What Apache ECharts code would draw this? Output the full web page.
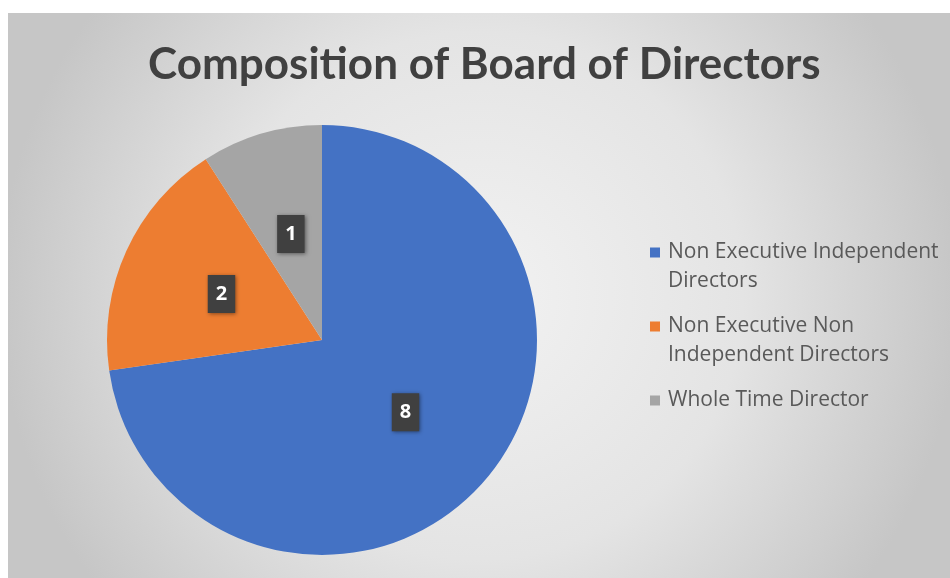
<!DOCTYPE html>
<html>
<head>
<meta charset="utf-8">
<style>
  html, body { margin: 0; padding: 0; background: #ffffff; }
  #chart { width: 950px; height: 578px; }
</style>
<script src="https://cdn.jsdelivr.net/npm/echarts@6/dist/echarts.min.js"></script>
</head>
<body>
<div id="chart"></div>
<script>
const titleText = 'Composition of Board of Directors';
const categories = [
  'Non Executive Independent Directors',
  'Non Executive Non Independent Directors',
  'Whole Time Director'
];
const legendLines = [
  ['Non Executive Independent', 'Directors'],
  ['Non Executive Non', 'Independent Directors'],
  ['Whole Time Director', ' ']
];
const values = [8, 2, 1];
const colors = ['#4472C4', '#ED7D31', '#A5A5A5'];

const chart = echarts.init(document.getElementById('chart'), null, { renderer: 'canvas' });

const option = {
  backgroundColor: '#ffffff',
  animation: false,
  graphic: [{
    type: 'rect',
    z: -10,
    silent: true,
    shape: { x: 8, y: 13, width: 942, height: 565 },
    style: {
      fill: new echarts.graphic.RadialGradient(0.5, 0.5, 0.85, [
        { offset: 0, color: '#f2f2f2' },
        { offset: 0.55, color: '#e4e4e4' },
        { offset: 1, color: '#c6c6c6' }
      ])
    }
  }],
  title: {
    text: titleText,
    left: 148,
    top: 43,
    padding: 0,
    textStyle: {
      fontFamily: 'Lato',
      fontWeight: 'bold',
      fontSize: 44,
      color: '#404040'
    }
  },
  legend: {
    orient: 'vertical',
    left: 650,
    top: 209,
    icon: 'rect',
    itemWidth: 10,
    itemHeight: 10,
    itemGap: -13,
    padding: 0,
    selectedMode: false,
    data: categories,
    formatter: function (name) {
      // blank first line keeps the marker level with the first text line
      return ' \n' + legendLines[categories.indexOf(name)].join('\n');
    },
    textStyle: {
      fontFamily: 'Open Sans',
      fontSize: 21,
      color: '#595959',
      lineHeight: 29,
      padding: [0, 0, 0, 3]
    }
  },
  series: [{
    type: 'pie',
    center: [322, 340],
    radius: 215,
    startAngle: 90,
    clockwise: true,
    silent: true,
    itemStyle: { borderWidth: 0 },
    label: {
      show: true,
      position: 'inside',
      formatter: '{c}',
      fontFamily: 'Open Sans',
      fontWeight: 'bold',
      fontSize: 20,
      color: '#ffffff',
      backgroundColor: '#404040',
      padding: [10, 8, 8, 8],
      shadowBlur: 4,
      shadowColor: 'rgba(0,0,0,0.45)',
      shadowOffsetX: 1,
      shadowOffsetY: 1
    },
    labelLine: { show: false },
    data: categories.map(function (c, i) {
      return { name: c, value: values[i], itemStyle: { color: colors[i] } };
    })
  }]
};

chart.setOption(option);
</script>
</body>
</html>
